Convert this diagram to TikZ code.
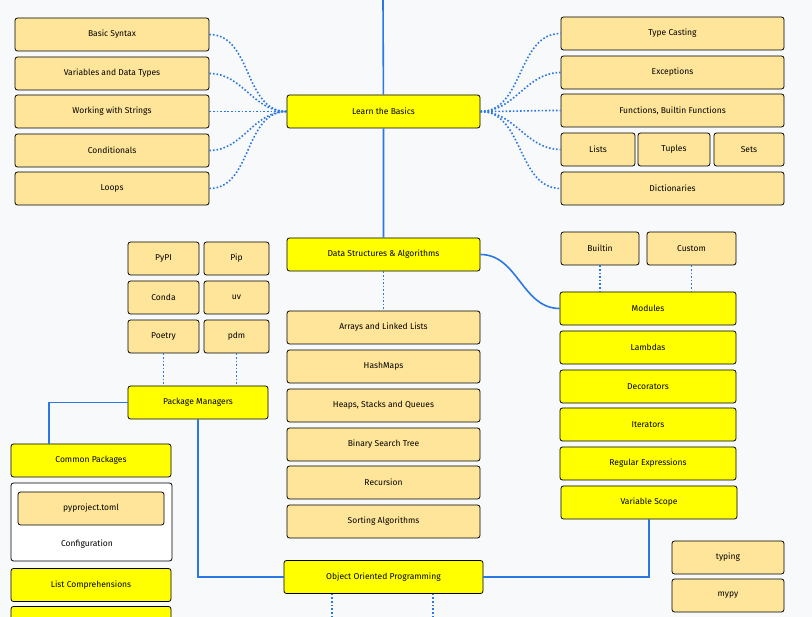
\documentclass[tikz,border=0pt]{standalone}
\usepackage{fontspec}
\setmainfont{Fira Sans}
\usetikzlibrary{positioning}
\definecolor{topic}{HTML}{FFE599}
\definecolor{main}{HTML}{FFFF00}
\definecolor{link}{HTML}{2B78E4}
\definecolor{bg}{HTML}{F8F9FB}
\begin{document}
\begin{tikzpicture}[x=1pt,y=-1pt,font=\fontsize{8.5}{10}\selectfont,
	box/.style={draw,thick,rounded corners=2.5pt,fill=topic,minimum height=33pt,inner sep=1pt},
	main box/.style={box,fill=main},
	solid link/.style={link,line width=1.6pt},
	dot link/.style={link,line width=1.6pt,dotted}]
	
	\fill[bg] (0,0) rectangle (812,617);
	\useasboundingbox (0,0) rectangle (812,617);
	
	% main column
	\node[main box,minimum width=193pt] (basics) at (383.5,111.5) {Learn the Basics};
	\node[main box,minimum width=193pt] (dsa) at (383.5,254.5) {Data Structures \& Algorithms};
	\node[main box,minimum width=199pt] (oop) at (383.5,577) {Object Oriented Programming};
	\coordinate (top) at (383,0);
	\draw[solid link] (top) -- (basics) -- (dsa);
	
	% basics, left
	\node[box,minimum width=194pt] (syntax) at (112,34.5) {Basic Syntax};
	\node[box,minimum width=194pt] (vars) at (112,73.5) {Variables and Data Types};
	\node[box,minimum width=194pt] (strings) at (112,111.5) {Working with Strings};
	\node[box,minimum width=194pt] (cond) at (112,150.5) {Conditionals};
	\node[box,minimum width=194pt] (loops) at (112,188.5) {Loops};
	\foreach \n in {syntax,vars,strings,cond,loops}
	\draw[dot link] (\n.east) to[out=0,in=180] (basics.west);
	
	% basics, right
	\node[box,minimum width=223pt] (cast) at (672.5,33.5) {Type Casting};
	\node[box,minimum width=223pt] (exc) at (672.5,72.5) {Exceptions};
	\node[box,minimum width=223pt] (func) at (672.5,110.5) {Functions, Builtin Functions};
	\node[box,minimum width=74pt] (lists) at (598,149.5) {Lists};
	\node[box,minimum width=72pt] (tuples) at (674,149.5) {Tuples};
	\node[box,minimum width=70pt] (sets) at (749,149.5) {Sets};
	\node[box,minimum width=223pt] (dict) at (672.5,188.5) {Dictionaries};
	\foreach \n in {cast,exc,func,lists,dict}
	\draw[dot link] (basics.east) to[out=0,in=180] (\n.west);
	
	% data structures
	\node[box,minimum width=193pt] (arrays) at (383.5,327.5) {Arrays and Linked Lists};
	\node[box,minimum width=193pt] (hash) at (383.5,366.5) {HashMaps};
	\node[box,minimum width=193pt] (heaps) at (383.5,405.5) {Heaps, Stacks and Queues};
	\node[box,minimum width=193pt] (bst) at (383.5,444.5) {Binary Search Tree};
	\node[box,minimum width=193pt] (rec) at (383.5,482.5) {Recursion};
	\node[box,minimum width=193pt] (sort) at (383.5,521.5) {Sorting Algorithms};
	\draw[dot link] (dsa) -- (arrays);
	
	% modules and friends
	\node[main box,minimum width=176pt] (mods) at (648,308.5) {Modules};
	\node[main box,minimum width=176pt] (lambda) at (648,347.5) {Lambdas};
	\node[main box,minimum width=176pt] (deco) at (648,386.5) {Decorators};
	\node[main box,minimum width=176pt] (iter) at (648,424.5) {Iterators};
	\node[main box,minimum width=176pt] (regex) at (648,463.5) {Regular Expressions};
	\node[main box,minimum width=176pt] (scope) at (649,502.5) {Variable Scope};
	\node[box,minimum width=78pt] (builtin) at (600,248.5) {Builtin};
	\node[box,minimum width=89pt] (custom) at (691.5,248.5) {Custom};
	\draw[dot link] (builtin) -- (builtin|-mods.north);
	\draw[dot link] (custom) -- (custom|-mods.north);
	\draw[solid link] (dsa.east) to[out=0,in=180] (mods.west);
	\draw[solid link] (scope.south) |- (oop.east);
	
	% package managers
	\node[box,minimum width=71pt] (pypi) at (163.5,258.5) {PyPI};
	\node[box,minimum width=65pt] (pip) at (236.5,258.5) {Pip};
	\node[box,minimum width=71pt] (conda) at (163.5,297.5) {Conda};
	\node[box,minimum width=65pt] (uv) at (236.5,297.5) {uv};
	\node[box,minimum width=71pt] (poetry) at (163.5,336.5) {Poetry};
	\node[box,minimum width=65pt] (pdm) at (236.5,336.5) {pdm};
	\node[main box,minimum width=140pt] (pkg) at (198,402.5) {Package Managers};
	\draw[dot link] (poetry) -- (poetry|-pkg.north);
	\draw[dot link] (pdm) -- (pdm|-pkg.north);
	
	% left column
	\node[main box,minimum width=160pt] (common) at (91,460.5) {Common Packages};
	\node[draw,thick,rounded corners=2.5pt,fill=white,minimum width=161pt,minimum height=78pt] (config) at (91.5,522) {};
	\node[box,minimum width=146pt] (toml) at (91,508.5) {pyproject.toml};
	\node (configlbl) at (87,544) {Configuration};
	\node[main box,minimum width=160pt] (listcomp) at (91,585) {List Comprehensions};
	\node[main box,minimum width=160pt] (next) at (91,623) {};
	\coordinate (bend) at (49,402.5);
	\draw[solid link] (pkg.west) -- (bend) -- (bend|-common.north);
	\draw[solid link] (pkg.south) |- (oop.west);
	
	% typing
	\node[box,minimum width=112pt] (typing) at (728,557.5) {typing};
	\node[box,minimum width=112pt] (mypy) at (728,595.5) {mypy};
	
	% below
	\coordinate (oopa) at (332,617);
	\coordinate (oopb) at (433,617);
	\draw[dot link] (oop.south-|oopa) -- (oopa);
	\draw[dot link] (oop.south-|oopb) -- (oopb);
	
\end{tikzpicture}
\end{document}
